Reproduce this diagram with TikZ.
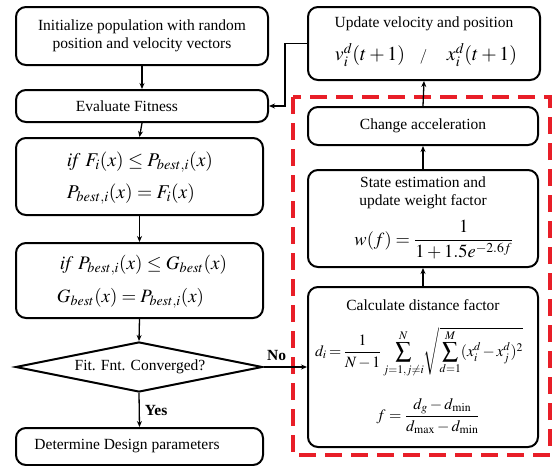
\documentclass[tikz,border=0pt]{standalone}
\usepackage{amsmath}
\usepackage{mathptmx}
\usepackage{fontspec}
\setmainfont{Liberation Serif}
\usetikzlibrary{shapes.geometric,arrows.meta}
\newcommand{\fitw}[2]{\resizebox{#1}{!}{#2}}
\tikzset{
  box/.style={draw=black, line width=2pt, rounded corners=10pt, inner sep=0pt},
  conn/.style={draw=black, line width=1.3pt, -{Stealth[length=6pt,width=5pt]}},
  txt/.style={font=\fontsize{15.5}{18}\selectfont, inner sep=0pt},
  mth/.style={font=\fontsize{17}{17}\selectfont, inner sep=0pt},
  lbl/.style={font=\fontsize{15.5}{18}\selectfont\bfseries, inner sep=0pt},
  reddash/.style={draw={rgb,255:red,232;green,30;blue,40}, line width=4pt, dash pattern=on 17pt off 9pt}
}
\begin{document}
\begin{tikzpicture}[x=1pt,y=-1pt]
\useasboundingbox (0,0) rectangle (552,466);
% red dashed region
\draw[reddash] (293,97) rectangle (550,455);
% left column
\node[box, minimum width=252pt, minimum height=58pt] (init) at (142,36) {};
\node[txt, align=center] (initt) at (142,36) {Initialize population with random\\position and velocity vectors};
\node[box, minimum width=252pt, minimum height=32pt] (eval) at (142,106) {};
\node[txt] (evalt) at (127,106) {Evaluate Fitness};
\node[box, minimum width=247pt, minimum height=77pt] (if1) at (139.5,176.5) {};
\node[mth] (if1a) at (140,162) {\fitw{146pt}{$\mathit{if}\ F_i(x)\le P_{best,i}(x)$}};
\node[mth] (if1b) at (131,194) {\fitw{128pt}{$P_{best,i}(x)=F_i(x)$}};
\node[box, minimum width=247pt, minimum height=75pt] (if2) at (139.5,280.5) {};
\node[mth] (if2a) at (143.5,265) {\fitw{167pt}{$\mathit{if}\ P_{best,i}(x)\le G_{best}(x)$}};
\node[mth] (if2b) at (130.5,298) {\fitw{147pt}{$G_{best}(x)=P_{best,i}(x)$}};
\node[diamond, draw=black, line width=2pt, minimum width=247pt, minimum height=50pt, inner sep=0pt] (dia) at (139,367) {};
\node[txt] (diat) at (140,367) {Fit. Fnt. Converged?};
\node[box, minimum width=247pt, minimum height=37pt] (det) at (139.5,446.5) {};
\node[txt] (dett) at (127,446) {Determine Design parameters};
% right column
\node[box, minimum width=232pt, minimum height=73pt] (upd) at (424,43.5) {};
\node[txt] (updt) at (424,24) {Update velocity and position};
\node[mth] (updm) at (426,55) {\fitw{182pt}{$v_i^d(t+1)\ \ \ {\scriptstyle/}\ \ \ \ x_i^d(t+1)$}};
\node[box, minimum width=230pt, minimum height=38pt] (chg) at (423,126) {};
\node[txt] (chgt) at (423,126) {Change acceleration};
\node[box, minimum width=230pt, minimum height=97pt] (st) at (423,218.5) {};
\node[txt, align=center] (stt) at (423,193) {State estimation and\\update weight factor};
\node[mth] (stm) at (434,240) {\fitw{159pt}{$w(f)=\dfrac{1}{1+1.5e^{-2.6f}}$}};
\node[box, minimum width=230pt, minimum height=160pt] (calc) at (423,367) {};
\node[txt] (calct) at (423,305) {Calculate distance factor};
\node[mth] (calcd) at (419,352) {\fitw{208pt}{$\thickmuskip=3mu\medmuskip=2mu d_i=\dfrac{1}{N-1}\displaystyle\sum_{j=1,j\neq i}^{N}\!\sqrt{\sum_{d=1}^{M}(x_i^d-x_j^d)^2}$}};
\node[mth] (calcf) at (428,416) {\fitw{103pt}{$f=\dfrac{d_g-d_{\min}}{d_{\max}-d_{\min}}$}};
% connectors
\draw[conn] (init.south) -- (eval.north);
\draw[conn] (eval.south) -- (if1.north);
\draw[conn] (if1.south) -- (if2.north);
\draw[conn] (if2.south) -- (dia.north);
\draw[conn] (dia.south) -- node[lbl, right=5pt, pos=0.5] (yes) {Yes} (det.north);
\draw[conn] (dia.east) -- node[lbl, above=6pt, pos=0.3] (no) {No} (calc.west);
\draw[conn] (calc.north) -- (st.south);
\draw[conn] (st.north) -- (chg.south);
\draw[conn] (chg.north) -- (upd.south);
\coordinate (k1) at (285,43.5);
\coordinate (k2) at (285,106);
\draw[conn] (upd.west) -- (k1) -- (k2) -- (eval.east);
\end{tikzpicture}
\end{document}
